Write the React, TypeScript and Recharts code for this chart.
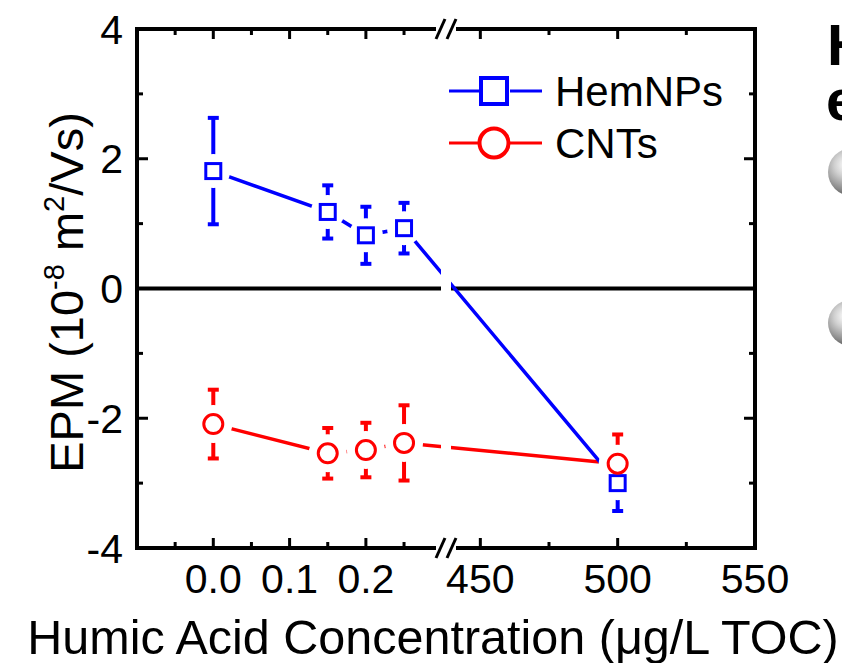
import React from 'react';
import {
  LineChart,
  Line,
  XAxis,
  YAxis,
  ErrorBar,
  ReferenceLine,
  ReferenceArea,
  Legend,
  Customized,
} from 'recharts';

// ---------------- data ----------------
const concentrations = [0, 0.15, 0.2, 0.25, 500];
const hemEPM = [1.81, 1.18, 0.82, 0.93, -3.0];
const hemErr = [0.82, 0.41, 0.44, 0.39, 0.43];
const cntEPM = [-2.09, -2.54, -2.49, -2.38, -2.7];
const cntErr = [0.53, 0.39, 0.42, 0.58, 0.45];

const seriesNames = ['HemNPs', 'CNTs'];
const seriesColors = ['#0000ff', '#ff0000'];
const seriesMarkers = ['square', 'circle'];

const xMajorTicks = [0, 0.1, 0.2, 450, 500, 550];
const xTickLabels = ['0.0', '0.1', '0.2', '450', '500', '550'];
const xMinorTicks = [-0.05, 0.05, 0.15, 0.25, 475, 525];
const yMajorTicks = [-4, -2, 0, 2, 4];
const yMinorTicks = [-3, -1, 1, 3];
const yDomain = [-4, 4];

// broken x axis: two linear segments
const lowSegment = [-0.1, 0.305];
const highSegment = [437.5, 550];

const toU = (x: number) =>
  x <= lowSegment[1]
    ? (x - lowSegment[0]) / (lowSegment[1] - lowSegment[0])
    : 1 + (x - highSegment[0]) / (highSegment[1] - highSegment[0]);

const data = concentrations.map((c, i) => ({
  u: toU(c),
  hem: hemEPM[i],
  hemErr: hemErr[i],
  cnt: cntEPM[i],
  cntErr: cntErr[i],
}));

const xTickList = [...xMajorTicks, ...xMinorTicks].sort((a, b) => a - b);
const xTicksU = xTickList.map(toU);
const yTickList = [...yMajorTicks, ...yMinorTicks].sort((a, b) => a - b);

const FONT = '"Liberation Sans", Arial, Helvetica, sans-serif';
const BLACK = '#000';

const findX = (u: number) => {
  const v = xTickList.find((t) => Math.abs(toU(t) - u) < 1e-6);
  return v === undefined ? null : v;
};

// ---------------- ticks ----------------
const BottomTick = (p: any) => {
  const v = findX(p.payload.value);
  const mi = v === null ? -1 : xMajorTicks.indexOf(v);
  const major = mi >= 0;
  return (
    <g>
      <line x1={p.x} x2={p.x} y1={p.y} y2={p.y - (major ? 10 : 6)} stroke={BLACK} strokeWidth={3} />
      {major && (
        <text x={p.x} y={p.y + 45} textAnchor="middle" fontSize={41} fontFamily={FONT} fill={BLACK}>
          {xTickLabels[mi]}
        </text>
      )}
    </g>
  );
};

const TopTick = (p: any) => {
  const v = findX(p.payload.value);
  const major = v !== null && xMajorTicks.indexOf(v) >= 0;
  return <line x1={p.x} x2={p.x} y1={p.y} y2={p.y + (major ? 10 : 6)} stroke={BLACK} strokeWidth={3} />;
};

const LeftTick = (p: any) => {
  const v = p.payload.value;
  const major = yMajorTicks.indexOf(v) >= 0;
  return (
    <g>
      <line x1={p.x} x2={p.x + (major ? 11 : 6)} y1={p.y} y2={p.y} stroke={BLACK} strokeWidth={3} />
      {major && (
        <text x={p.x - 14} y={p.y + 14.5} textAnchor="end" fontSize={41} fontFamily={FONT} fill={BLACK}>
          {String(v)}
        </text>
      )}
    </g>
  );
};

const RightTick = (p: any) => {
  const v = p.payload.value;
  const major = yMajorTicks.indexOf(v) >= 0;
  return <line x1={p.x} x2={p.x - (major ? 11 : 6)} y1={p.y} y2={p.y} stroke={BLACK} strokeWidth={3} />;
};

// ---------------- labels ----------------
const XTitle = (p: any) => {
  const vb = p.viewBox || { x: 137, y: 548, width: 618, height: 115 };
  return (
    <text x={vb.x + vb.width / 2 - 13} y={vb.y + 106} textAnchor="middle" fontSize={48.5} fontFamily={FONT} fill={BLACK}>
      Humic Acid Concentration (μg/L TOC)
    </text>
  );
};

const YTitle = (p: any) => {
  const vb = p.viewBox || { x: 0, y: 29, width: 137, height: 519 };
  const x0 = vb.x + 83;
  const y0 = vb.y + vb.height / 2 + 4;
  return (
    <text
      x={x0}
      y={y0}
      transform={`rotate(-90, ${x0}, ${y0})`}
      textAnchor="middle"
      fontSize={47}
      fontFamily={FONT}
      fill={BLACK}
    >
      <tspan>EPM (10</tspan>
      <tspan dy={-19} fontSize={29}>-8</tspan>
      <tspan dy={19}> m</tspan>
      <tspan dy={-19} fontSize={29}>2</tspan>
      <tspan dy={19}>/Vs)</tspan>
    </text>
  );
};

// ---------------- markers ----------------
const makeHalo = (r: number) => (p: any) =>
  <circle key={`halo-${p.index}`} cx={p.cx} cy={p.cy} r={r} fill="#fff" stroke="none" />;

const SquareDot = (p: any) => (
  <rect
    key={`sq-${p.index}`}
    x={p.cx - 7.5}
    y={p.cy - 7.5}
    width={15}
    height={15}
    fill="#fff"
    stroke={seriesColors[0]}
    strokeWidth={3}
  />
);

const CircleDot = (p: any) => (
  <circle key={`ci-${p.index}`} cx={p.cx} cy={p.cy} r={9.5} fill="#fff" stroke={seriesColors[1]} strokeWidth={3} />
);

// ---------------- axis break ----------------
const BreakShape = (p: any) => {
  const { x, y, width, height } = p;
  const cx = x + width / 2;
  const ends = [y, y + height];
  return (
    <g>
      <rect x={x} y={y} width={width} height={height} fill="#fff" stroke="none" />
      {ends.map((cy, i) => (
        <g key={i}>
          <rect x={cx - 10} y={cy - 4} width={20} height={8} fill="#fff" stroke="none" />
          <line x1={cx - 10} y1={cy + 10} x2={cx - 1} y2={cy - 10} stroke={BLACK} strokeWidth={3} />
          <line x1={cx + 1} y1={cy + 10} x2={cx + 10} y2={cy - 10} stroke={BLACK} strokeWidth={3} />
        </g>
      ))}
    </g>
  );
};

// ---------------- legend ----------------
const LegendContent = () => (
  <svg width={300} height={110} style={{ display: 'block', overflow: 'visible' }}>
    {seriesNames.map((name, i) => {
      const cy = 31 + i * 52;
      const color = seriesColors[i];
      return (
        <g key={name}>
          <line x1={9} x2={39} y1={cy} y2={cy} stroke={color} strokeWidth={3} />
          <line x1={70} x2={102} y1={cy} y2={cy} stroke={color} strokeWidth={3} />
          {seriesMarkers[i] === 'square' ? (
            <rect x={41} y={cy - 13} width={26} height={26} fill="none" stroke={color} strokeWidth={4} />
          ) : (
            <circle cx={54} cy={cy} r={14.5} fill="none" stroke={color} strokeWidth={4} />
          )}
          <text x={115} y={cy + 15} fontSize={42} fontFamily={FONT} fill={BLACK}>
            {name}
          </text>
        </g>
      );
    })}
  </svg>
);

// ---------------- neighbouring panel fragments ----------------
const EdgeFragments = () => (
  <g>
    <defs>
      <radialGradient id="sphereGrad" cx="38%" cy="35%" r="70%">
        <stop offset="0%" stopColor="#ffffff" />
        <stop offset="35%" stopColor="#d0d0d0" />
        <stop offset="75%" stopColor="#8a8a8a" />
        <stop offset="100%" stopColor="#4a4a4a" />
      </radialGradient>
    </defs>
    <text fontSize={58} fontWeight="bold" fontFamily={FONT} fill={BLACK}>
      <tspan x={827} y={65}>H</tspan>
      <tspan x={826} y={120}>e</tspan>
    </text>
    <circle cx={852} cy={172} r={24} fill="url(#sphereGrad)" />
    <circle cx={851} cy={323} r={23} fill="url(#sphereGrad)" />
  </g>
);

const axisLineStyle = { stroke: BLACK, strokeWidth: 4, strokeLinecap: 'square' as const };
const breakHalfWidth = 5 / 309;

export default function App() {
  return (
    <div style={{ position: 'absolute', left: 0, top: 0, width: 842, height: 663, background: '#fff' }}>
      <LineChart width={842} height={663} data={data} margin={{ top: 28, right: 86, bottom: 0, left: 0 }}>
        <XAxis
          dataKey="u"
          type="number"
          domain={[0, 2]}
          ticks={xTicksU}
          interval={0}
          height={115}
          tickSize={0}
          tickMargin={0}
          tickLine={false}
          axisLine={axisLineStyle}
          tick={BottomTick}
          allowDataOverflow
          label={{ content: (p: any) => <XTitle {...p} /> }}
        />
        <XAxis
          xAxisId="top"
          dataKey="u"
          orientation="top"
          type="number"
          domain={[0, 2]}
          ticks={xTicksU}
          interval={0}
          height={1}
          tickSize={0}
          tickMargin={0}
          tickLine={false}
          axisLine={axisLineStyle}
          tick={TopTick}
          allowDataOverflow
        />
        <YAxis
          type="number"
          domain={yDomain}
          ticks={yTickList}
          interval={0}
          width={137}
          tickSize={0}
          tickMargin={0}
          tickLine={false}
          axisLine={axisLineStyle}
          tick={LeftTick}
          allowDataOverflow
          label={{ content: (p: any) => <YTitle {...p} /> }}
        />
        <YAxis
          yAxisId="right"
          orientation="right"
          type="number"
          domain={yDomain}
          ticks={yTickList}
          interval={0}
          width={1}
          tickSize={0}
          tickMargin={0}
          tickLine={false}
          axisLine={axisLineStyle}
          tick={RightTick}
          allowDataOverflow
        />
        <ReferenceLine y={0} stroke={BLACK} strokeWidth={4} />

        {/* connecting lines, gapped around their own markers */}
        <Line
          xAxisId="top"
          yAxisId="right"
          dataKey="cnt"
          type="linear"
          stroke={seriesColors[1]}
          strokeWidth={3.5}
          dot={makeHalo(19)}
          activeDot={false}
          isAnimationActive={false}
          legendType="none"
        />
        <Line
          dataKey="hem"
          type="linear"
          stroke={seriesColors[0]}
          strokeWidth={3.5}
          dot={makeHalo(17)}
          activeDot={false}
          isAnimationActive={false}
          legendType="none"
        />

        {/* HemNPs error bars and markers */}
        <Line dataKey="hem" stroke="none" dot={false} activeDot={false} isAnimationActive={false} legendType="none">
          <ErrorBar dataKey="hemErr" direction="y" width={5.5} stroke={seriesColors[0]} strokeWidth={4} isAnimationActive={false} />
        </Line>
        <Line dataKey="hem" name={seriesNames[0]} stroke="none" dot={SquareDot} activeDot={false} isAnimationActive={false} />

        {/* CNTs error bars and markers */}
        <Line dataKey="cnt" stroke="none" dot={false} activeDot={false} isAnimationActive={false} legendType="none">
          <ErrorBar dataKey="cntErr" direction="y" width={5.5} stroke={seriesColors[1]} strokeWidth={4} isAnimationActive={false} />
        </Line>
        <Line dataKey="cnt" name={seriesNames[1]} stroke="none" dot={CircleDot} activeDot={false} isAnimationActive={false} />

        <ReferenceArea
          x1={1 - breakHalfWidth}
          x2={1 + breakHalfWidth}
          y1={yDomain[0]}
          y2={yDomain[1]}
          ifOverflow="visible"
          shape={BreakShape}
          zIndex={3000}
        />

        <Legend
          layout="horizontal"
          verticalAlign="middle"
          align="center"
          width={300}
          height={110}
          wrapperStyle={{ left: 440, top: 60, width: 300, height: 110 }}
          content={LegendContent}
        />
        <Customized component={<EdgeFragments />} />
      </LineChart>
    </div>
  );
}
